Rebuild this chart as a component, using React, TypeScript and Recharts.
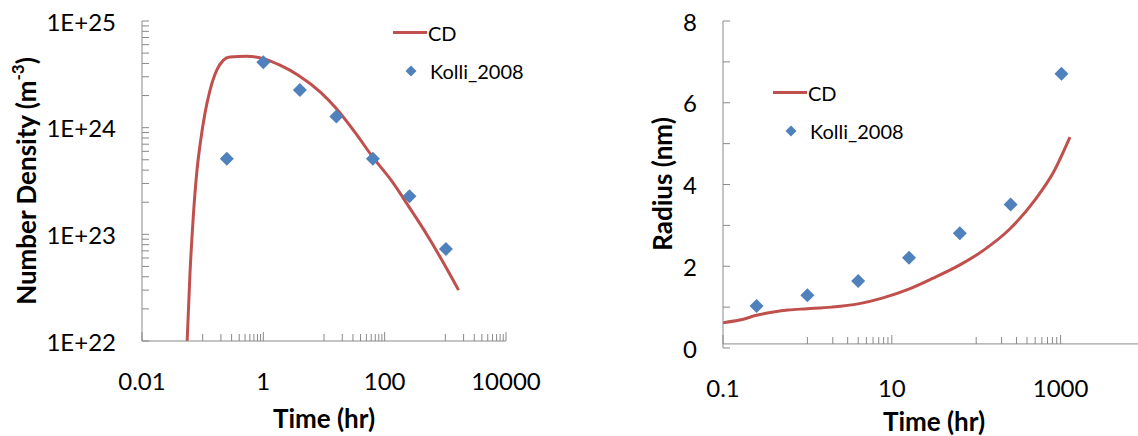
import React from "react";
import {
  ComposedChart,
  Line,
  Scatter,
  XAxis,
  YAxis,
  ReferenceLine
} from "recharts";

// Kolli_2008 measurements (both panels share the same ageing times)
const kolliTime = [0.25, 1, 4, 16, 64, 256, 1024];
const kolliDensity = [5.1e23, 4.1e24, 2.25e24, 1.27e24, 5.1e23, 2.27e23, 7.3e22];
const kolliRadius = [1.03, 1.29, 1.64, 2.21, 2.81, 3.51, 6.71];

// CD model, number density panel
const cdDensityTime = [
  0.0555, 0.0618, 0.07, 0.0796, 0.0927, 0.109, 0.132, 0.17, 0.218, 0.282,
  0.531, 1, 1.88, 3.76, 8.9, 15.8, 34.6, 62, 134, 247, 521, 986, 1652
];
const cdDensity = [
  1e22, 4.3e22, 1.46e23, 3.7e23, 7.6e23, 1.36e24, 2.24e24, 3.45e24, 4.28e24,
  4.6e24, 4.67e24, 4.44e24, 3.85e24, 3.1e24, 2.13e24, 1.52e24, 8.6e23,
  5.4e23, 3.1e23, 1.84e23, 9.5e22, 5.1e22, 3.0e22
];

// CD model, radius panel
const cdRadiusTime = [
  0.1, 0.163, 0.25, 0.396, 0.589, 1, 1.93, 4, 7.7, 15.9, 31, 62.5, 124, 250,
  495, 813, 1290
];
const cdRadius = [
  0.62, 0.69, 0.8, 0.88, 0.93, 0.96, 1.0, 1.08, 1.22, 1.44, 1.71, 2.02, 2.4,
  2.91, 3.62, 4.28, 5.16
];

// axis labels
const densityXLabels = [0.01, 1, 100, 10000];
const densityYLabels = [1e22, 1e23, 1e24, 1e25];
const radiusXLabels = [0.1, 10, 1000];
const radiusYTicks = [0, 1, 2, 3, 4, 5, 6, 7, 8];
const radiusYLabels = [0, 2, 4, 6, 8];

const RED = "#C0504D";
const BLUE = "#4F81BD";
const AXIS = "#898989";
const FONT = "Lato, 'Open Sans', sans-serif";

const toPoints = (xs: number[], ys: number[]) =>
  xs.map((t, i) => ({ t, v: ys[i] }));

const cdDensityData = toPoints(cdDensityTime, cdDensity);
const kolliDensityData = toPoints(kolliTime, kolliDensity);
const cdRadiusData = toPoints(cdRadiusTime, cdRadius);
const kolliRadiusData = toPoints(kolliTime, kolliRadius);

// Excel-style minor ticks: 1..9 steps inside each major unit of 100
const base100Ticks = (majors: number[]) => {
  const out: number[] = [];
  majors.forEach((m, i) => {
    out.push(m);
    if (i < majors.length - 1) {
      for (let k = 1; k <= 9; k++) out.push(m * 10 * k);
    }
  });
  return out;
};

const decadeTicks = (from: number, to: number) => {
  const out: number[] = [];
  for (let n = from; n < to; n++) {
    for (let k = 1; k <= 9; k++) out.push(k * Math.pow(10, n));
  }
  out.push(Math.pow(10, to));
  return out;
};

const near = (a: number, b: number) => Math.abs(a - b) <= Math.abs(b) * 1e-6 + 1e-12;
const inList = (v: number, list: number[]) => list.some((l) => near(v, l));

const densityXTicks = base100Ticks(densityXLabels);
const densityYTicks = decadeTicks(22, 25);
const radiusXTicks = base100Ticks([0.1, 10, 1000]);

const XTick = (props: any) => {
  const { x, y, payload, labels, lift = 0 } = props;
  const v = payload.value;
  const major = inList(v, labels);
  const y0 = y - lift;
  return (
    <g>
      <line x1={x} x2={x} y1={y0} y2={y0 - (major ? 9 : 7)} stroke={AXIS} strokeWidth={1} />
      {major && (
        <text
          x={x}
          y={y0 + 39 + lift}
          textAnchor="middle"
          dominantBaseline="central"
          fontFamily={FONT}
          fontSize={24}
          fill="#000"
        >
          {String(v)}
        </text>
      )}
    </g>
  );
};

const YTick = (props: any) => {
  const { x, y, payload, labels, format } = props;
  const v = payload.value;
  const labelled = inList(v, labels);
  return (
    <g>
      <line x1={x} x2={x + 7} y1={y} y2={y} stroke={AXIS} strokeWidth={1} />
      {labelled && (
        <text
          x={x - 26}
          y={y}
          textAnchor="end"
          dominantBaseline="central"
          fontFamily={FONT}
          fontSize={24}
          fill="#000"
        >
          {format(v)}
        </text>
      )}
    </g>
  );
};

const Diamond = (props: any) => {
  const { cx, cy } = props;
  const r = 7;
  return (
    <polygon
      points={`${cx},${cy - r} ${cx + r},${cy} ${cx},${cy + r} ${cx - r},${cy}`}
      fill={BLUE}
    />
  );
};

const LegendBlock = ({ x, y }: { x: number; y: number }) => (
  <g fontFamily={FONT} fontSize={20} fill="#000">
    <line x1={x} x2={x + 34} y1={y} y2={y} stroke={RED} strokeWidth={3} />
    <text x={x + 35} y={y} dominantBaseline="central">CD</text>
    <polygon
      points={`${x + 18},${y + 33} ${x + 23.5},${y + 38.5} ${x + 18},${y + 44} ${x + 12.5},${y + 38.5}`}
      fill={BLUE}
    />
    <text x={x + 37} y={y + 38} dominantBaseline="central">Kolli_2008</text>
  </g>
);

export default function App() {
  return (
    <div
      style={{
        position: "absolute",
        left: 0,
        top: 0,
        width: 1138,
        height: 436,
        overflow: "hidden",
        background: "#fff",
        fontFamily: FONT
      }}
    >
      <div style={{ position: "absolute", left: 0, top: 0 }}>
        <ComposedChart
          width={560}
          height={436}
          margin={{ top: 21, right: 54, bottom: 0, left: 0 }}
        >
          <XAxis
            dataKey="t"
            type="number"
            scale="log"
            domain={[0.01, 10000]}
            allowDataOverflow
            ticks={densityXTicks}
            interval={0}
            height={95}
            tickSize={0}
            tickMargin={0}
            tickLine={false}
            axisLine={{ stroke: AXIS }}
            tick={(p: any) => <XTick {...p} labels={densityXLabels} />}
          />
          <YAxis
            dataKey="v"
            type="number"
            scale="log"
            domain={[1e22, 1e25]}
            allowDataOverflow
            ticks={densityYTicks}
            interval={0}
            width={142}
            tickSize={0}
            tickMargin={0}
            tickLine={false}
            axisLine={{ stroke: AXIS }}
            tick={(p: any) => (
              <YTick
                {...p}
                labels={densityYLabels}
                format={(v: number) => `1E+${Math.round(Math.log10(v))}`}
              />
            )}
          />
          <Line
            data={cdDensityData}
            dataKey="v"
            type="monotone"
            stroke={RED}
            strokeWidth={3}
            dot={false}
            isAnimationActive={false}
          />
          <Scatter
            data={kolliDensityData}
            dataKey="v"
            shape={Diamond}
            isAnimationActive={false}
          />
        </ComposedChart>
      </div>

      <div style={{ position: "absolute", left: 570, top: 0 }}>
        <ComposedChart
          width={585}
          height={436}
          margin={{ top: 21, right: 10, bottom: 0, left: 0 }}
        >
          <XAxis
            dataKey="t"
            type="number"
            scale="log"
            domain={[0.1, 10000]}
            allowDataOverflow
            ticks={radiusXTicks}
            interval={0}
            height={88}
            tickSize={0}
            tickMargin={0}
            tickLine={false}
            axisLine={false}
            tick={(p: any) => <XTick {...p} labels={radiusXLabels} lift={4} />}
          />
          <YAxis
            dataKey="v"
            type="number"
            domain={[0, 8]}
            ticks={radiusYTicks}
            interval={0}
            width={153}
            tickSize={0}
            tickMargin={0}
            tickLine={false}
            axisLine={{ stroke: AXIS }}
            tick={(p: any) => (
              <YTick {...p} labels={radiusYLabels} format={(v: number) => String(v)} />
            )}
          />
          <ReferenceLine y={0.1} stroke={AXIS} strokeWidth={1} />
          <Line
            data={cdRadiusData}
            dataKey="v"
            type="monotone"
            stroke={RED}
            strokeWidth={3}
            dot={false}
            isAnimationActive={false}
          />
          <Scatter
            data={kolliRadiusData}
            dataKey="v"
            shape={Diamond}
            isAnimationActive={false}
          />
        </ComposedChart>
      </div>

      <svg
        width={1138}
        height={436}
        style={{ position: "absolute", left: 0, top: 0, pointerEvents: "none" }}
      >
        <LegendBlock x={393} y={32.5} />
        <LegendBlock x={773} y={92.5} />
        <g fontFamily={FONT} fontWeight="bold" fontSize={26} fill="#000">
          <text x={324} y={418} textAnchor="middle" dominantBaseline="central">
            Time (hr)
          </text>
          <text x={934} y={421} textAnchor="middle" dominantBaseline="central">
            Time (hr)
          </text>
          <text
            transform="translate(26,181) rotate(-90)"
            textAnchor="middle"
            dominantBaseline="central"
          >
            Number Density (m<tspan fontSize={17} dy={-9}>-3</tspan>
            <tspan dy={9}>)</tspan>
          </text>
          <text
            transform="translate(662,184) rotate(-90)"
            textAnchor="middle"
            dominantBaseline="central"
          >
            Radius (nm)
          </text>
        </g>
      </svg>
    </div>
  );
}
